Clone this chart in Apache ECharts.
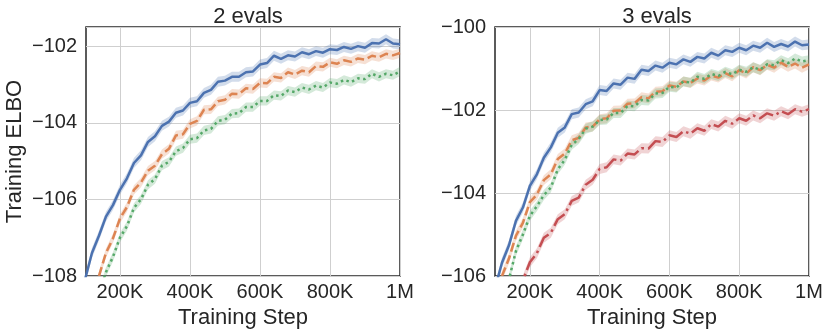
<!DOCTYPE html>
<html>
<head>
<meta charset="utf-8">
<script src="https://cdn.jsdelivr.net/npm/echarts@6/dist/echarts.min.js"></script>
<style>
  html, body { margin: 0; padding: 0; background: #fff; }
  #chart { width: 830px; height: 334px; }
</style>
</head>
<body>
<div id="chart"></div>
<script>
// training steps (every 20K)
const steps = [100000, 120000, 140000, 160000, 180000, 200000, 220000, 240000, 260000, 280000,
  300000, 320000, 340000, 360000, 380000, 400000, 420000, 440000, 460000, 480000,
  500000, 520000, 540000, 560000, 580000, 600000, 620000, 640000, 660000, 680000,
  700000, 720000, 740000, 760000, 780000, 800000, 820000, 840000, 860000, 880000,
  900000, 920000, 940000, 960000, 980000, 1000000];
const xTicks = [200000, 400000, 600000, 800000, 1000000];
const panelTitles = ["2 evals", "3 evals"];

// 2 evals
const left1 = [-108.1, -107.4, -106.95, -106.45, -106.15, -105.75, -105.45, -105.05, -104.85, -104.5,
  -104.35, -104.08, -103.97, -103.74, -103.68, -103.48, -103.44, -103.22, -103.14, -102.93,
  -102.9, -102.8, -102.8, -102.68, -102.66, -102.48, -102.44, -102.25, -102.33, -102.24,
  -102.27, -102.16, -102.21, -102.13, -102.17, -102.08, -102.1, -102.02, -102.07, -102.0,
  -102.04, -101.92, -101.93, -101.82, -101.93, -101.95];
const left2 = [-109.3, -108.55, -108.0, -107.4, -107.02, -106.5, -106.2, -105.75, -105.56, -105.25,
  -105.12, -104.82, -104.68, -104.33, -104.3, -104.03, -103.95, -103.66, -103.65, -103.44,
  -103.4, -103.24, -103.25, -103.1, -103.12, -102.96, -102.97, -102.8, -102.83, -102.68,
  -102.74, -102.64, -102.68, -102.52, -102.54, -102.42, -102.46, -102.37, -102.41, -102.32,
  -102.35, -102.25, -102.29, -102.2, -102.24, -102.18];
const left3 = [-109.7, -108.95, -108.45, -107.9, -107.5, -107.0, -106.7, -106.22, -106.0, -105.62,
  -105.47, -105.12, -105.02, -104.74, -104.66, -104.43, -104.4, -104.2, -104.16, -103.95,
  -103.92, -103.76, -103.75, -103.59, -103.59, -103.43, -103.43, -103.28, -103.3, -103.16,
  -103.2, -103.08, -103.13, -103.03, -103.08, -102.95, -102.98, -102.88, -102.94, -102.84,
  -102.86, -102.72, -102.8, -102.72, -102.76, -102.66];
const leftSpread = [0.13, 0.12, 0.12];

// 3 evals
const right1 = [-106.3, -105.68, -105.26, -104.67, -104.35, -103.83, -103.55, -103.15, -102.9, -102.55,
  -102.42, -102.1, -102.06, -101.86, -101.79, -101.52, -101.54, -101.36, -101.39, -101.22,
  -101.25, -101.03, -101.06, -100.93, -100.98, -100.86, -100.9, -100.78, -100.84, -100.72,
  -100.76, -100.62, -100.69, -100.56, -100.6, -100.5, -100.56, -100.45, -100.5, -100.38,
  -100.48, -100.41, -100.47, -100.35, -100.44, -100.42];
const right2 = [-106.6, -106.0, -105.58, -105.03, -104.72, -104.22, -104.04, -103.69, -103.55, -103.18,
  -103.05, -102.73, -102.67, -102.42, -102.4, -102.22, -102.2, -102.02, -102.01, -101.85,
  -101.84, -101.69, -101.72, -101.56, -101.55, -101.41, -101.44, -101.31, -101.35, -101.24,
  -101.29, -101.17, -101.22, -101.11, -101.19, -101.04, -101.12, -100.97, -101.04, -100.91,
  -100.98, -100.86, -100.96, -100.88, -100.98, -100.9];
const right3 = [-107.4, -106.6, -106.08, -105.4, -105.0, -104.55, -104.32, -104.05, -103.87, -103.43,
  -103.2, -102.84, -102.7, -102.45, -102.4, -102.24, -102.23, -102.07, -102.07, -101.9,
  -101.91, -101.76, -101.77, -101.6, -101.59, -101.44, -101.46, -101.31, -101.34, -101.2,
  -101.25, -101.13, -101.18, -101.08, -101.14, -101.03, -101.08, -100.97, -101.03, -100.9,
  -100.92, -100.8, -100.87, -100.76, -100.83, -100.8];
const right4 = [-107.6, -107.1, -106.82, -106.35, -106.1, -105.67, -105.45, -105.08, -104.96, -104.63,
  -104.51, -104.19, -104.11, -103.8, -103.68, -103.42, -103.38, -103.19, -103.22, -103.05,
  -103.07, -102.92, -102.93, -102.75, -102.77, -102.61, -102.65, -102.51, -102.57, -102.44,
  -102.5, -102.34, -102.4, -102.26, -102.33, -102.2, -102.26, -102.13, -102.2, -102.08,
  -102.14, -102.03, -102.1, -101.98, -102.04, -101.98];
const rightSpread = [0.12, 0.12, 0.12, 0.12];

const colors = ["#4C72B0", "#DD8452", "#55A868", "#C44E52"];
const dashes = ["solid", [9, 4], [2.5, 3.5], [16, 4, 2.5, 4]];
const FONT = "Liberation Sans";
const TXT = "#262626";
const GRIDLINE = "#cfcfcf";

const chart = echarts.init(document.getElementById("chart"));

function bandSeries(vals, spread, color, axisIdx) {
    return {
        type: "custom",
        xAxisIndex: axisIdx,
        yAxisIndex: axisIdx,
        clip: true,
        silent: true,
        data: [0],
        renderItem: function (params, api) {
            const upper = steps.map((s, i) => api.coord([s, vals[i] + spread]));
            const lower = steps.map((s, i) => api.coord([s, vals[i] - spread])).reverse();
            return {
                type: "polygon",
                shape: { points: upper.concat(lower) },
                style: { fill: color, opacity: 0.25 },
            };
        },
    };
}

function lineSeries(vals, idx, axisIdx) {
    return {
        type: "line",
        xAxisIndex: axisIdx,
        yAxisIndex: axisIdx,
        data: steps.map((s, i) => [s, vals[i]]),
        showSymbol: false,
        clip: true,
        lineStyle: { color: colors[idx], width: 2.5, type: dashes[idx], cap: "butt" },
        z: 3,
    };
}

function xAxis(gridIndex, min) {
    return {
        type: "value",
        gridIndex: gridIndex,
        min: min,
        max: 1000000,
        name: "Training Step",
        nameLocation: "middle",
        nameGap: 27,
        nameTextStyle: { fontFamily: FONT, fontSize: 22, color: TXT },
        axisLine: { show: false },
        axisTick: { show: false, customValues: xTicks },
        axisLabel: {
            customValues: xTicks,
            fontFamily: FONT,
            fontSize: 20,
            color: TXT,
            margin: 6,
            formatter: (v) => (v === 1000000 ? "1M" : v / 1000 + "K"),
        },
        splitLine: { show: true, lineStyle: { color: GRIDLINE, width: 1 } },
    };
}

function yAxis(gridIndex, min, max, withName) {
    return {
        type: "value",
        gridIndex: gridIndex,
        min: min,
        max: max,
        interval: 2,
        name: withName ? "Training ELBO" : "",
        nameLocation: "middle",
        nameGap: 60,
        nameTextStyle: { fontFamily: FONT, fontSize: 22, color: TXT },
        axisLine: { show: false },
        axisTick: { show: false },
        axisLabel: {
            fontFamily: FONT,
            fontSize: 20,
            color: TXT,
            margin: 9,
            showMaxLabel: max % 2 === 0,
            formatter: (v) => (v % 2 === 0 ? "\u2212" + Math.abs(v) : ""),
        },
        splitLine: { show: true, lineStyle: { color: GRIDLINE, width: 1 } },
    };
}

const series = [];
[left1, left2, left3].forEach((v, i) => series.push(bandSeries(v, leftSpread[i], colors[i], 0)));
[left1, left2, left3].forEach((v, i) => series.push(lineSeries(v, i, 0)));
[right1, right2, right3, right4].forEach((v, i) => series.push(bandSeries(v, rightSpread[i], colors[i], 1)));
[right1, right2, right3, right4].forEach((v, i) => series.push(lineSeries(v, i, 1)));

chart.setOption({
    animation: false,
    backgroundColor: "#fff",
    title: [
        { text: panelTitles[0], left: 243, top: 1, textAlign: "center",
          textStyle: { fontFamily: FONT, fontSize: 22, fontWeight: "normal", color: TXT } },
        { text: panelTitles[1], left: 652, top: 1, textAlign: "center",
          textStyle: { fontFamily: FONT, fontSize: 22, fontWeight: "normal", color: TXT } },
    ],
    grid: [
        { left: 86, right: 430, top: 27, bottom: 58, show: true, borderColor: "#262626", borderWidth: 1.5, backgroundColor: "transparent" },
        { left: 495, right: 21, top: 27, bottom: 58, show: true, borderColor: "#262626", borderWidth: 1.5, backgroundColor: "transparent" },
    ],
    xAxis: [xAxis(0, 103000), xAxis(1, 100000)],
    yAxis: [yAxis(0, -108, -101.5, true), yAxis(1, -106, -100, false)],
    series: series,
});
</script>
</body>
</html>
